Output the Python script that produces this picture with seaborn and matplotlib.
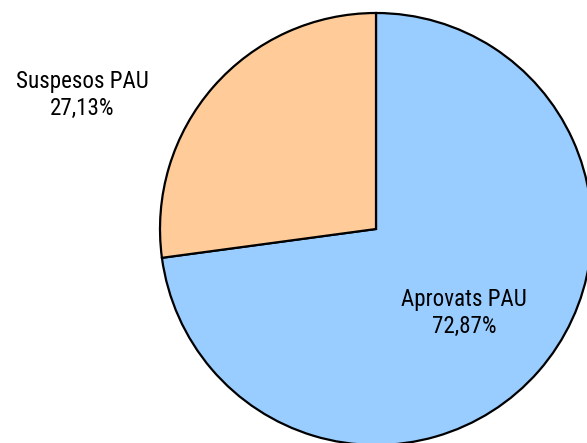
import matplotlib
matplotlib.use("Agg")
import matplotlib.pyplot as plt
import seaborn as sns

categories = ["Aprovats PAU", "Suspesos PAU"]
values = [72.87, 27.13]
value_labels = ["72,87%", "27,13%"]

sns.set_theme(style="white")
plt.rcParams['font.family'] = ['Roboto Condensed', 'Archivo Narrow', 'Liberation Sans', 'DejaVu Sans']

W, H = 587, 443
fig = plt.figure(figsize=(W / 100, H / 100), dpi=100)
ax = fig.add_axes([0, 0, 1, 1])

colors = ["#99CCFF", "#FFCC99"]
ax.pie(values, colors=colors, startangle=90, counterclock=False,
       center=(376, H - 229), radius=216, frame=True,
       wedgeprops=dict(edgecolor="black", linewidth=1.6))
ax.set_xlim(0, W)
ax.set_ylim(0, H)
ax.set_aspect('equal')
ax.axis('off')

label_pos = [(464, H - 313), (82.5, H - 95)]
for cat, lab, (x, y) in zip(categories, value_labels, label_pos):
    ax.text(x, y, f"{cat}\n{lab}", ha="center", va="center", fontsize=16.6,
            fontweight="normal", color="black", linespacing=1.25)

fig.savefig("out.png", dpi=100, facecolor="white")
